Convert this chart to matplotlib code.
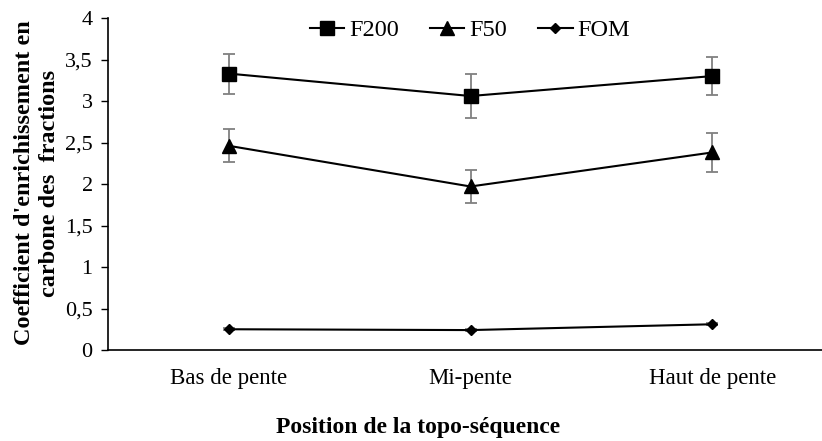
import matplotlib.pyplot as plt
import numpy as np

plt.rcParams['font.family'] = ['Liberation Serif', 'DejaVu Serif']

positions = ["Bas de pente", "Mi-pente", "Haut de pente"]
f200 = [3.33, 3.06, 3.30]
f200_err = [0.24, 0.27, 0.23]
f50 = [2.46, 1.97, 2.38]
f50_err = [0.20, 0.20, 0.24]
fom = [0.25, 0.24, 0.31]
fom_err = [0.01, 0.01, 0.01]

yticks = [0, 0.5, 1, 1.5, 2, 2.5, 3, 3.5, 4]

fig = plt.figure(figsize=(8.22, 4.41), dpi=100)
ax = fig.add_axes([108 / 822, 91 / 441, 725 / 822, 332 / 441])

x = np.arange(len(positions))
ekw = dict(ecolor='#808080', elinewidth=1.3, capsize=4.5, capthick=1.3)
ax.errorbar(x, f200, yerr=f200_err, color='black', lw=1.5, marker='s', ms=9.5, label='F200', **ekw)
ax.errorbar(x, f50, yerr=f50_err, color='black', lw=1.5, marker='^', ms=10, label='F50', **ekw)
ax.errorbar(x, fom, yerr=fom_err, color='black', lw=1.5, marker='D', ms=5, label='FOM', **ekw)

ax.set_xlim(-0.5, 2.5)
ax.set_ylim(0, 4)
ax.set_xticks(x)
ax.set_xticklabels(positions, fontsize=16.5)
ax.tick_params(axis='x', length=0, pad=13)
ax.set_yticks(yticks)
ax.set_yticklabels([f"{t:g}".replace('.', ',') for t in yticks], fontsize=16)
ax.tick_params(axis='y', direction='out', length=5, width=1, pad=6)
for s in ['top', 'right']:
    ax.spines[s].set_visible(False)
for s in ['left', 'bottom']:
    ax.spines[s].set_linewidth(1.2)

fig.text(37 / 822, 1 - 183 / 441, "Coefficient d'enrichissement en\ncarbone des  fractions",
         rotation=90, ha='center', va='center', fontsize=17.5, fontweight='bold',
         linespacing=1.2)
fig.text(418 / 822, 1 - 428 / 441, "Position de la topo-séquence",
         ha='center', va='center', fontsize=17, fontweight='bold')

handles, labels = ax.get_legend_handles_labels()
handles = [h[0] for h in handles]
fig.legend(handles, labels, loc='center', bbox_to_anchor=(470 / 822, 1 - 30 / 441),
           ncol=3, frameon=False, fontsize=17.5, handlelength=1.4, handletextpad=0.2,
           columnspacing=1.3)

fig.savefig('out.png', dpi=100)
